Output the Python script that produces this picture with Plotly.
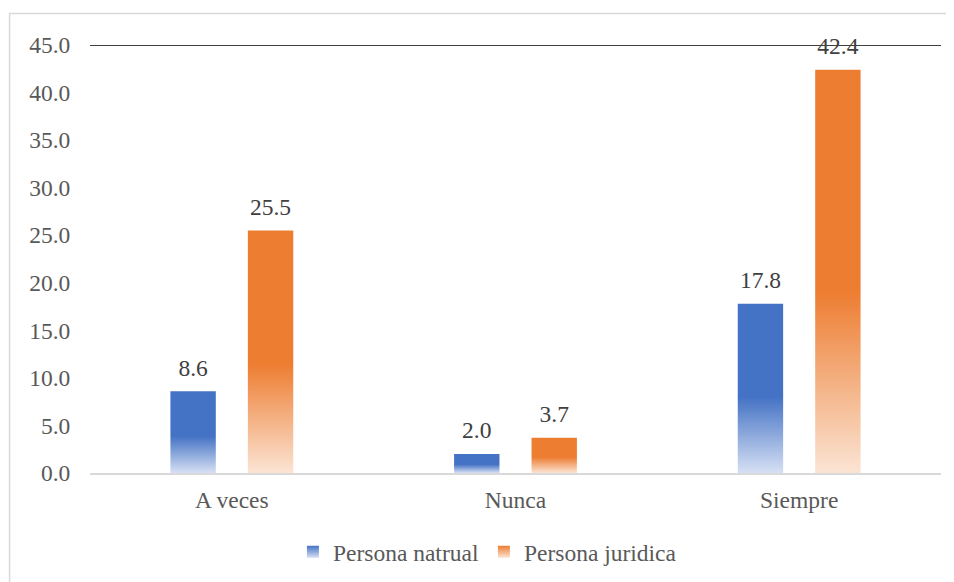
import plotly.graph_objects as go

categories = ["A veces", "Nunca", "Siempre"]
persona_natural = [8.6, 2.0, 17.8]
persona_juridica = [25.5, 3.7, 42.4]
series_names = ["Persona natrual", "Persona juridica"]
y_tick_values = [0, 5, 10, 15, 20, 25, 30, 35, 40, 45]

series_values = [persona_natural, persona_juridica]
colors = ["#4472C4", "#ED7D31"]
light_colors = ["rgb(214,224,244)", "rgb(251,228,212)"]
offsets = [-0.1365, 0.1365]
half_width = 0.08
FONT = "Liberation Serif"

fig = go.Figure()

for s, (name, vals) in enumerate(zip(series_names, series_values)):
    for i, v in enumerate(vals):
        c = i + offsets[s]
        fig.add_trace(go.Scatter(
            x=[c - half_width, c - half_width, c + half_width, c + half_width, c - half_width],
            y=[0, v, v, 0, 0],
            mode="lines",
            line=dict(width=0, color=colors[s]),
            fill="toself",
            fillgradient=dict(
                type="vertical",
                start=0,
                stop=v,
                colorscale=[[0, light_colors[s]], [0.45, colors[s]], [1, colors[s]]],
            ),
            showlegend=False,
            hoverinfo="skip",
        ))
    # data labels
    fig.add_trace(go.Scatter(
        x=[i + offsets[s] for i in range(len(vals))],
        y=vals,
        mode="markers+text",
        marker=dict(size=14, color="rgba(0,0,0,0)"),
        text=[f"{v:.1f}" for v in vals],
        textposition="top center",
        textfont=dict(family=FONT, size=23.5, color="#404040"),
        cliponaxis=False,
        showlegend=False,
        hoverinfo="skip",
    ))

# legend entries
for s, name in enumerate(series_names):
    fig.add_trace(go.Scatter(
        x=[None], y=[None],
        mode="markers",
        marker=dict(symbol="square", size=12, color=colors[s],
                    gradient=dict(type="vertical", color=light_colors[s])),
        name=name,
    ))

fig.update_layout(
    width=946,
    height=574,
    margin=dict(l=81.5, r=13, t=36.5, b=109, autoexpand=False),
    paper_bgcolor="white",
    plot_bgcolor="white",
    font=dict(family=FONT, size=23.5, color="#595959"),
    showlegend=True,
    legend=dict(
        orientation="h",
        xref="paper",
        yref="container",
        x=0.467,
        xanchor="center",
        y=0.0523,
        yanchor="middle",
        font=dict(family=FONT, size=23.5, color="#595959"),
        itemclick=False,
    ),
    xaxis=dict(
        range=[-0.5, 2.5],
        tickmode="array",
        tickvals=list(range(len(categories))),
        ticktext=categories,
        showgrid=False,
        zeroline=False,
        showline=True,
        linecolor="#d9d9d9",
        linewidth=1.5,
        ticks="outside",
        ticklen=5,
        tickcolor="rgba(0,0,0,0)",
        automargin=False,
        fixedrange=True,
    ),
    yaxis=dict(
        range=[0, 45],
        tickmode="array",
        tickvals=y_tick_values,
        tickformat=".1f",
        showgrid=False,
        zeroline=False,
        showline=False,
        ticks="outside",
        ticklen=14,
        tickcolor="rgba(0,0,0,0)",
        automargin=False,
        fixedrange=True,
    ),
    shapes=[
        dict(type="line", xref="paper", yref="y", x0=0, x1=1, y0=45, y1=45,
             line=dict(color="#404040", width=2), layer="below"),
        dict(type="rect", xref="paper", yref="paper",
             x0=-0.0945, x1=1.2, y0=-0.6, y1=1.0735,
             line=dict(color="#d9d9d9", width=1.5), layer="below"),
    ],
)

fig.write_html("out.html")
